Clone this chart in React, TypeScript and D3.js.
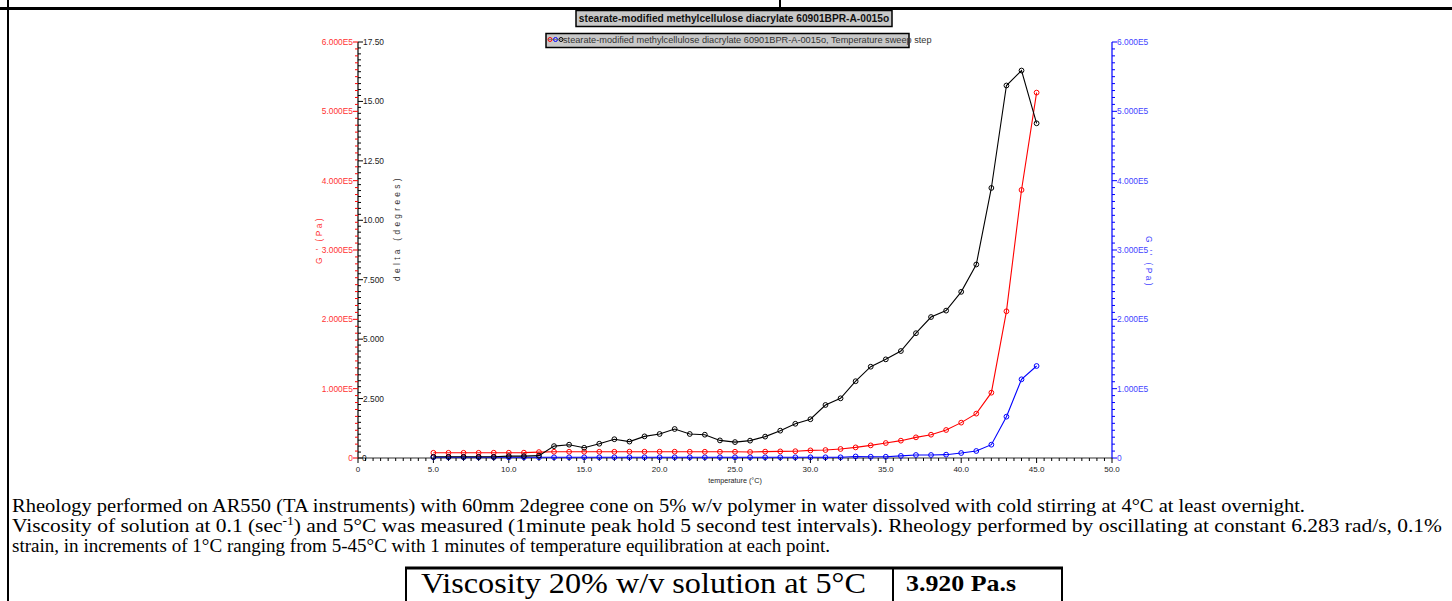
import React from "react";
import * as d3 from "d3";

const temps = [5,6,7,8,9,10,11,12,13,14,15,16,17,18,19,20,21,22,23,24,25,26,27,28,29,30,31,32,33,34,35,36,37,38,39,40,41,42,43,44,45];
const gPrime = [7500,7500,7500,7500,7600,7600,7700,8500,9000,9000,9000,9000,9000,9100,9100,9100,9100,9000,9000,9000,9000,8700,9200,9500,9800,11000,11500,13000,15300,18200,21600,25000,29800,33600,40400,51000,64000,94200,211600,386600,527000];
const gDouble = [1000,1000,1000,1000,1000,1000,1000,1000,1000,1000,1000,1000,1000,1000,1000,1000,1000,1000,1000,1000,1000,1000,1000,1000,1000,1000,1000,1000,2200,1800,1800,3000,4300,4300,4800,7200,10100,19200,59600,113500,132700];
const delta = [0.05,0.05,0.05,0.05,0.05,0.08,0.08,0.1,0.5,0.56,0.43,0.6,0.79,0.69,0.91,1.01,1.22,1.01,0.98,0.74,0.67,0.73,0.9,1.15,1.44,1.63,2.23,2.51,3.23,3.84,4.15,4.5,5.25,5.93,6.2,6.99,8.14,11.36,15.67,16.3,14.08];

const xTicks = [0,5,10,15,20,25,30,35,40,45,50];
const gTicks = [0,1e5,2e5,3e5,4e5,5e5,6e5];
const dTicks = [0,2.5,5,7.5,10,12.5,15,17.5];

const chartTitle = "stearate-modified methylcellulose diacrylate 60901BPR-A-0015o";
const legendText = "stearate-modified methylcellulose diacrylate 60901BPR-A-0015o, Temperature sweep step";

export default function App() {
  const x = d3.scaleLinear().domain([0, 50]).range([358, 1112]);
  const yG = d3.scaleLinear().domain([0, 6e5]).range([458, 42]);
  const yD = d3.scaleLinear().domain([0, 17.5]).range([458, 42]);

  const fmtG = (v: number) => (v === 0 ? "0" : (v / 1e5).toFixed(3) + "E5");
  const fmtD = (v: number) => (v === 0 ? "0" : d3.format(".4r")(v));
  const fmtX = (v: number) => (v === 0 ? "0" : v.toFixed(1));

  const lineG = d3.line<number>().x((_, i) => x(temps[i])).y((d) => yG(d));
  const lineD = d3.line<number>().x((_, i) => x(temps[i])).y((d) => yD(d));

  const gMinor = d3.range(0, 600001, 10000);
  const dMinor = d3.range(0, 17.51, 0.25);
  const xMinor = d3.range(0, 50.01, 0.5);

  const sans = "Arial, 'Liberation Sans', sans-serif";
  const serif = "'Liberation Serif', 'Times New Roman', serif";

  const series = [
    { vals: gDouble, color: "#0000ff", line: lineG, y: yG },
    { vals: gPrime, color: "#ff0000", line: lineG, y: yG },
    { vals: delta, color: "#000000", line: lineD, y: yD },
  ];

  return (
    <svg width={1452} height={601} style={{ position: "absolute", left: 0, top: 0, background: "#fff" }}>
      {/* page table borders */}
      <line x1={0} x2={1452} y1={8.5} y2={8.5} stroke="#000" strokeWidth={3} />
      <line x1={780} x2={780} y1={0} y2={8} stroke="#000" strokeWidth={2} />
      <line x1={8} x2={8} y1={0} y2={601} stroke="#000" strokeWidth={2} />

      {/* title */}
      <rect x={576} y={10.5} width={316} height={16} fill="#c8c8c8" stroke="#000" strokeWidth={1.5} />
      <text x={734} y={22.3} textAnchor="middle" fontFamily={sans} fontWeight="bold" fontSize={10.2} fill="#111">{chartTitle}</text>

      {/* legend */}
      <rect x={546} y={33.5} width={363} height={14} fill="#c8c8c8" stroke="#000" strokeWidth={1.5} />
      <circle cx={550} cy={39.5} r={2} fill="none" stroke="#ff0000" strokeWidth={1} />
      <circle cx={555.5} cy={39.5} r={2} fill="none" stroke="#0000ff" strokeWidth={1} />
      <circle cx={561} cy={39.5} r={2} fill="none" stroke="#000" strokeWidth={1} />
      <line x1={548} x2={563} y1={39.5} y2={39.5} stroke="#555" strokeWidth={0.6} />
      <text x={563} y={43} fontFamily={sans} fontSize={9.2} fill="#333">{legendText}</text>

      {/* left combined axis */}
      <line x1={358} x2={358} y1={42} y2={458} stroke="#000" strokeWidth={1.2} />
      {gMinor.map((v) => (
        <line key={"gm" + v} x1={v % 100000 === 0 ? 353 : 355} x2={358} y1={yG(v)} y2={yG(v)} stroke="#ff0000" strokeWidth={1} />
      ))}
      {dMinor.map((v) => (
        <line key={"dm" + v} x1={358} x2={Math.abs(v / 2.5 - Math.round(v / 2.5)) < 1e-6 ? 363 : 361} y1={yD(v)} y2={yD(v)} stroke="#000" strokeWidth={1} />
      ))}
      {gTicks.map((v) => (
        <text key={"gt" + v} x={353} y={yG(v) + 3} textAnchor="end" fontFamily={sans} fontSize={8.4} fill="#ff3333">{fmtG(v)}</text>
      ))}
      {dTicks.map((v) => (
        <text key={"dt" + v} x={v === 0 ? 362 : 363} y={yD(v) + 3} fontFamily={sans} fontSize={8.4} fill="#222">{fmtD(v)}</text>
      ))}
      <text transform="translate(322,240) rotate(-90)" textAnchor="middle" fontFamily={sans} fontSize={8.4} fill="#ff3333" letterSpacing={2.4}>G ' (Pa)</text>
      <text transform="translate(400,228) rotate(-90)" textAnchor="middle" fontFamily={sans} fontSize={8.4} fill="#333" letterSpacing={3.3}>delta (degrees)</text>

      {/* right axis */}
      <line x1={1112} x2={1112} y1={42} y2={458} stroke="#0000ff" strokeWidth={1.2} />
      {gMinor.map((v) => (
        <line key={"rm" + v} x1={1112} x2={v % 100000 === 0 ? 1117 : 1115} y1={yG(v)} y2={yG(v)} stroke="#0000ff" strokeWidth={1} />
      ))}
      {gTicks.map((v) => (
        <text key={"rt" + v} x={1117} y={yG(v) + 3} fontFamily={sans} fontSize={8.4} fill="#4444ff">{fmtG(v)}</text>
      ))}
      <text transform="translate(1146,262) rotate(90)" textAnchor="middle" fontFamily={sans} fontSize={8.4} fill="#4444ff" letterSpacing={2.4}>G '' (Pa)</text>

      {/* x axis */}
      <line x1={358} x2={1112} y1={458} y2={458} stroke="#333" strokeWidth={1.2} />
      {xMinor.map((v) => (
        <line key={"xm" + v} x1={x(v)} x2={x(v)} y1={458} y2={v % 5 === 0 ? 463 : 461} stroke="#000" strokeWidth={1} />
      ))}
      {xTicks.map((v) => (
        <text key={"xt" + v} x={x(v)} y={472} textAnchor="middle" fontFamily={sans} fontSize={8} fill="#222">{fmtX(v)}</text>
      ))}
      <text x={735} y={483} textAnchor="middle" fontFamily={sans} fontSize={7.2} fill="#222">temperature (°C)</text>

      {/* series */}
      {series.map((s, si) => (
        <g key={"s" + si}>
          <path d={s.line(s.vals) || ""} fill="none" stroke={s.color} strokeWidth={1.1} />
          {s.vals.map((v, i) => (
            <circle key={i} cx={x(temps[i])} cy={s.y(v)} r={2.4} fill="none" stroke={s.color} strokeWidth={1} />
          ))}
        </g>
      ))}

      {/* description */}
      <text x={12} y={512} fontFamily={serif} fontSize={19} fill="#000" textLength={1293} lengthAdjust="spacingAndGlyphs">
        {"Rheology  performed on AR550 (TA instruments) with 60mm 2degree cone on 5% w/v polymer in water dissolved with cold stirring at 4°C at least overnight."}
      </text>
      <text x={12} y={532} fontFamily={serif} fontSize={19} fill="#000" textLength={1430} lengthAdjust="spacingAndGlyphs">
        {"Viscosity of solution at 0.1 (sec"}
        <tspan fontSize={12} dy={-7}>{"-1"}</tspan>
        <tspan dy={7}>{") and 5°C was measured (1minute peak hold 5 second test intervals). Rheology performed by oscillating at constant 6.283 rad/s, 0.1%"}</tspan>
      </text>
      <text x={12} y={552} fontFamily={serif} fontSize={19} fill="#000" textLength={818} lengthAdjust="spacingAndGlyphs">
        {"strain, in increments of 1°C ranging from 5-45°C with 1 minutes of temperature equilibration at each point."}
      </text>

      {/* viscosity table */}
      <line x1={405} x2={1063} y1={568} y2={568} stroke="#000" strokeWidth={3} />
      <line x1={406} x2={406} y1={567} y2={601} stroke="#000" strokeWidth={2} />
      <line x1={893} x2={893} y1={567} y2={601} stroke="#000" strokeWidth={2} />
      <line x1={1062} x2={1062} y1={567} y2={601} stroke="#000" strokeWidth={2} />
      <text x={421} y={593} fontFamily={serif} fontSize={30} fill="#000" textLength={445} lengthAdjust="spacingAndGlyphs">Viscosity 20% w/v solution at 5°C</text>
      <text x={906} y={591} fontFamily={serif} fontSize={24} fontWeight="bold" fill="#000" textLength={110} lengthAdjust="spacingAndGlyphs">3.920 Pa.s</text>
    </svg>
  );
}
